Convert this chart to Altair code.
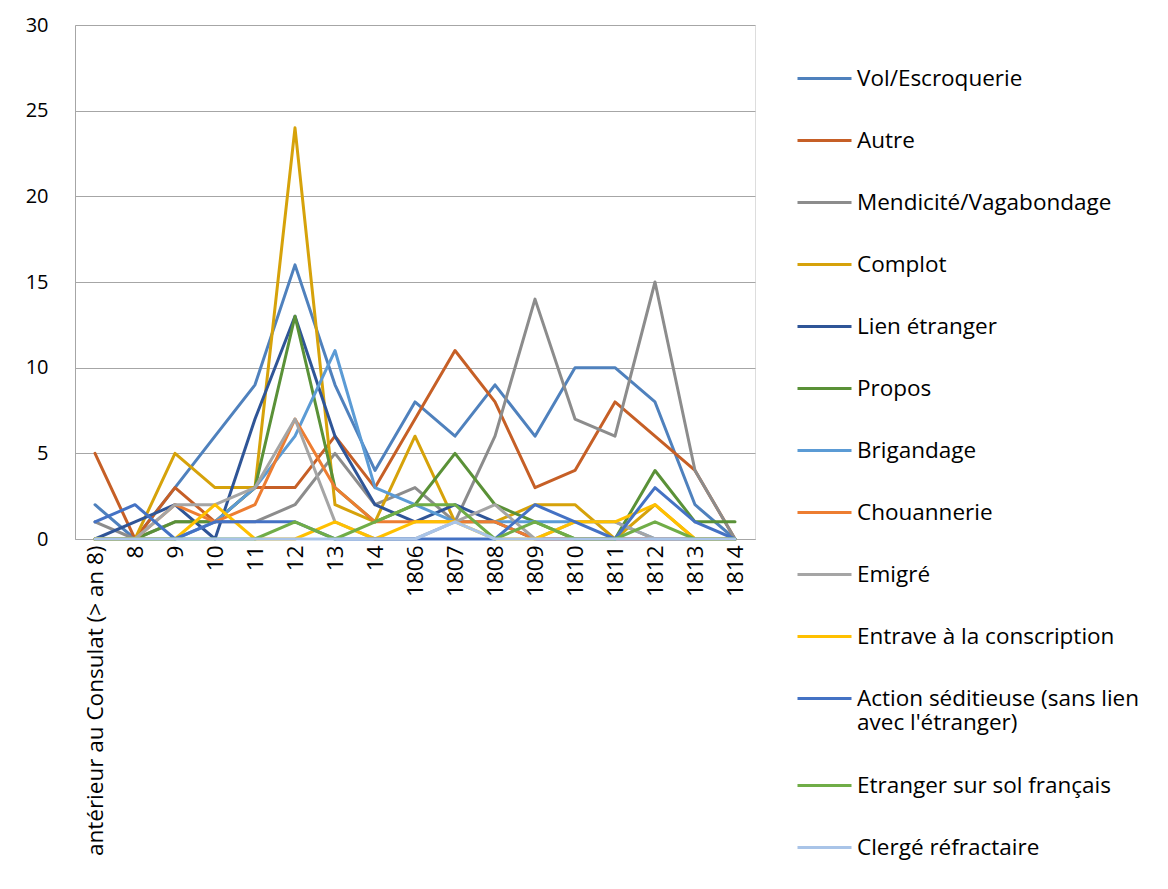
import altair as alt
import pandas as pd

categories = ["antérieur au Consulat (> an 8)", "8", "9", "10", "11", "12", "13", "14",
              "1806", "1807", "1808", "1809", "1810", "1811", "1812", "1813", "1814"]

series_names = ["Vol/Escroquerie", "Autre", "Mendicité/Vagabondage", "Complot", "Lien étranger",
                "Propos", "Brigandage", "Chouannerie", "Emigré", "Entrave à la conscription",
                "Action séditieuse (sans lien avec l'étranger)", "Etranger sur sol français",
                "Clergé réfractaire"]

vol = [2, 0, 3, 6, 9, 16, 9, 4, 8, 6, 9, 6, 10, 10, 8, 2, 0]
autre = [5, 0, 3, 1, 3, 3, 6, 3, 7, 11, 8, 3, 4, 8, 6, 4, 0]
mendicite = [1, 0, 1, 1, 1, 2, 5, 2, 3, 1, 6, 14, 7, 6, 15, 4, 0]
complot = [0, 0, 5, 3, 3, 24, 2, 1, 6, 1, 1, 2, 2, 0, 2, 0, 0]
lien = [0, 1, 2, 0, 7, 13, 6, 2, 1, 2, 1, 0, 0, 0, 0, 0, 0]
propos = [0, 0, 1, 1, 3, 13, 3, 1, 2, 5, 2, 1, 0, 0, 4, 1, 1]
brigandage = [0, 0, 0, 1, 3, 6, 11, 3, 2, 1, 1, 1, 1, 1, 0, 0, 0]
chouannerie = [0, 0, 2, 1, 2, 7, 3, 1, 1, 1, 1, 0, 0, 0, 0, 0, 0]
emigre = [0, 0, 2, 2, 3, 7, 1, 0, 0, 1, 2, 0, 1, 1, 0, 0, 0]
entrave = [0, 0, 0, 2, 0, 0, 1, 0, 1, 1, 0, 0, 1, 1, 2, 0, 0]
action = [1, 2, 0, 1, 1, 1, 0, 0, 0, 0, 0, 2, 1, 0, 3, 1, 0]
etranger = [0, 0, 0, 0, 0, 1, 0, 1, 2, 2, 0, 1, 0, 0, 1, 0, 0]
clerge = [0, 0, 0, 0, 0, 0, 0, 0, 0, 1, 0, 0, 0, 0, 0, 0, 0]

series_values = [vol, autre, mendicite, complot, lien, propos, brigandage,
                 chouannerie, emigre, entrave, action, etranger, clerge]

colors = ["#4F81BD", "#C65F26", "#8C8C8C", "#D6A20A", "#2F5597", "#5A9137", "#5B9BD5",
          "#ED7D31", "#A5A5A5", "#FFC000", "#4472C4", "#70AD47", "#A9C4E8"]

rows = []
for name, vals in zip(series_names, series_values):
    for cat, v in zip(categories, vals):
        rows.append({"serie": name, "categorie": cat, "valeur": v})
df = pd.DataFrame(rows)

FONT = "Open Sans"

label_expr = ("indexof(datum.label, 'Action') == 0 ? "
              "['Action séditieuse (sans lien', \"avec l'étranger)\"] : datum.label")

chart = alt.Chart(df).mark_line(strokeWidth=3, strokeJoin="round", strokeCap="round").encode(
    x=alt.X("categorie:N", sort=categories,
            scale=alt.Scale(type="point", padding=0.5),
            axis=alt.Axis(title=None, labelAngle=270, labelAlign="right", labelBaseline="middle",
                          labelFontSize=22.5, labelColor="#000000", labelFont=FONT,
                          labelPadding=6, ticks=False, domainColor="#A6A6A6", domainWidth=1,
                          grid=False, labelLimit=400)),
    y=alt.Y("valeur:Q", scale=alt.Scale(domain=[0, 30], nice=False),
            axis=alt.Axis(title=None, values=[0, 5, 10, 15, 20, 25, 30], ticks=False,
                          labelFontSize=20, labelColor="#000000", labelFont=FONT,
                          labelPadding=27, domainColor="#A6A6A6", domainWidth=1,
                          gridColor="#A6A6A6", gridWidth=1)),
    color=alt.Color("serie:N", sort=series_names,
                    scale=alt.Scale(domain=series_names, range=colors),
                    legend=alt.Legend(title=None, orient="none", legendX=721, legendY=25,
                                      symbolType="stroke", symbolSize=2916, symbolStrokeWidth=3,
                                      labelFontSize=22.5, labelFont=FONT, labelColor="#000000",
                                      labelExpr=label_expr, rowPadding=22, padding=0,
                                      labelLimit=420, labelOffset=4)),
).properties(
    width=680, height=514,
    autosize=alt.AutoSizeParams(type="none"),
    padding={"left": 67, "top": 17, "right": 405, "bottom": 340},
).configure_view(stroke=None).configure(background="#FFFFFF")

chart.save("out.html", embed_options={"renderer": "svg", "actions": False})
